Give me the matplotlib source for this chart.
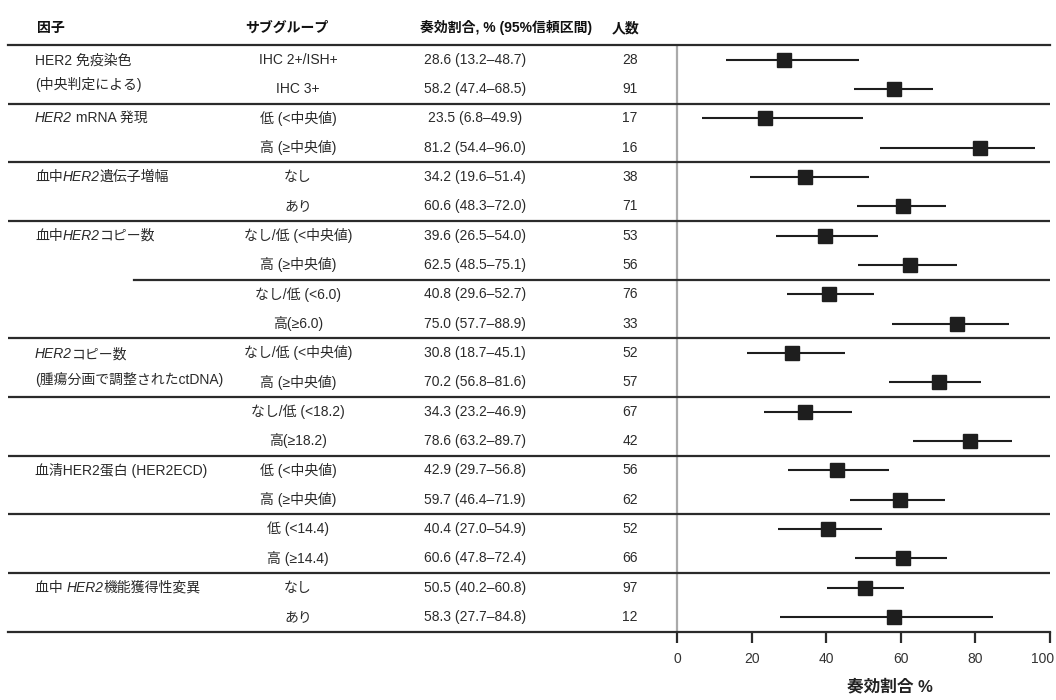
import matplotlib
matplotlib.use("Agg")
import matplotlib.pyplot as plt
from matplotlib.transforms import blended_transform_factory, ScaledTranslation

plt.rcParams['font.family'] = ['Liberation Sans', 'Noto Sans CJK JP', 'DejaVu Sans']

# サブグループごとの奏効割合と95%信頼区間
subgroups = ["IHC 2+/ISH+", "IHC 3+",
             "低 (<中央値)", "高 (≥中央値)",
             "なし", "あり",
             "なし/低 (<中央値)", "高 (≥中央値)",
             "なし/低 (<6.0)", "高(≥6.0)",
             "なし/低 (<中央値)", "高 (≥中央値)",
             "なし/低 (<18.2)", "高(≥18.2)",
             "低 (<中央値)", "高 (≥中央値)",
             "低 (<14.4)", "高 (≥14.4)",
             "なし", "あり"]
estimates = [28.6, 58.2, 23.5, 81.2, 34.2, 60.6, 39.6, 62.5, 40.8, 75.0,
             30.8, 70.2, 34.3, 78.6, 42.9, 59.7, 40.4, 60.6, 50.5, 58.3]
lower = [13.2, 47.4, 6.8, 54.4, 19.6, 48.3, 26.5, 48.5, 29.6, 57.7,
         18.7, 56.8, 23.2, 63.2, 29.7, 46.4, 27.0, 47.8, 40.2, 27.7]
upper = [48.7, 68.5, 49.9, 96.0, 51.4, 72.0, 54.0, 75.1, 52.7, 88.9,
         45.1, 81.6, 46.9, 89.7, 56.8, 71.9, 54.9, 72.4, 60.8, 84.8]
counts = [28, 91, 17, 16, 38, 71, 53, 56, 76, 33,
          52, 57, 67, 42, 56, 62, 52, 66, 97, 12]

# 因子ラベル (テキスト, イタリック) の組
factor_labels = [
    [("HER2 免疫染色", False)],
    [("(中央判定による)", False)],
    [("HER2", True), (" mRNA 発現", False)],
    [("血中", False), ("HER2", True), ("遺伝子増幅", False)],
    [("血中", False), ("HER2", True), ("コピー数", False)],
    [("HER2", True), ("コピー数", False)],
    [("(腫瘍分画で調整されたctDNA)", False)],
    [("血清HER2蛋白 (HER2ECD)", False)],
    [("血中 ", False), ("HER2", True), ("機能獲得性変異", False)],
]
factor_rows = [0.05, 0.85, 2, 4, 6, 10.05, 10.9, 14, 18]

headers = ["因子", "サブグループ", "奏効割合, % (95%信頼区間)", "人数"]
xticks = [0, 20, 40, 60, 80, 100]

W, H = 1056, 700
TXT = '#2a2a2a'
LINE = '#2b2b2b'

fig = plt.figure(figsize=(W / 100, H / 100), dpi=100)
ax = fig.add_axes([8 / W, 68.5 / H, 1042 / W, 586.5 / H])
ax.set_xlim(-669 / 3.73, 100)
ax.set_ylim(19.5, -0.5)

rows = list(range(len(subgroups)))

# 0% の基準線
ax.axvline(0, color='#aaaaaa', lw=1.6, zorder=1)

# 区切り線
for y in range(1, len(subgroups) - 1, 2):
    y = y + 0.5
    if y == 7.5:
        ax.axhline(y, xmin=(134 - 8) / 1042, color=LINE, lw=1.6)
    else:
        ax.axhline(y, color=LINE, lw=1.6)
ax.axhline(-0.5, color=LINE, lw=1.6, clip_on=False)

# 信頼区間と点推定
ax.hlines(rows, lower, upper, color='#1e1e1e', lw=1.5, zorder=2)
ax.plot(estimates, rows, 's', color='#1e1e1e', ms=10, zorder=3)

for s in ['top', 'left', 'right']:
    ax.spines[s].set_visible(False)
ax.spines['bottom'].set_linewidth(1.6)
ax.spines['bottom'].set_color(LINE)
ax.set_yticks([])
ax.set_xticks(xticks)
ax.tick_params(axis='x', direction='out', length=8, width=1.6, color=LINE,
               labelsize=10, labelcolor='#333333', pad=7)
# 右端の "100" が切れないよう少し左へ寄せる
last = ax.get_xticklabels()[-1]
last.set_transform(last.get_transform() + ScaledTranslation(-7 / 100, 0, fig.dpi_scale_trans))

tr = blended_transform_factory(fig.transFigure, ax.transData)

# 見出し
head_x = [37, 245, 420, 612]
for hx, h in zip(head_x, headers):
    ax.text(hx / W, -1.08, h, transform=tr, ha='left', va='center',
            fontsize=10, fontweight='bold', color='#111111')

# 表の各列
for r in rows:
    ax.text(298 / W, r, subgroups[r], transform=tr, ha='center', va='center',
            fontsize=10, color=TXT)
    ax.text(475 / W, r, f"{estimates[r]:.1f} ({lower[r]:.1f}–{upper[r]:.1f})",
            transform=tr, ha='center', va='center', fontsize=10, color=TXT)
    ax.text(630 / W, r, str(counts[r]), transform=tr, ha='center', va='center',
            fontsize=10, color=TXT)

# 因子ラベル (一部の HER2 はイタリック)
for segs, fy in zip(factor_labels, factor_rows):
    prev = None
    for seg, it in segs:
        style = 'italic' if it else 'normal'
        if prev is None:
            prev = ax.text(35 / W, fy, seg, transform=tr, ha='left', va='center',
                           fontsize=10, color=TXT, fontstyle=style)
        else:
            prev = ax.annotate(seg, xy=(1, 0.5), xycoords=prev, ha='left',
                               va='center', fontsize=10, color=TXT,
                               fontstyle=style)

fig.text(890 / W, 1 - 687 / H, "奏効割合 %", ha='center', va='center',
         fontsize=12, fontweight='bold', color='#222222')

fig.savefig("out.png", dpi=100, facecolor='white')
